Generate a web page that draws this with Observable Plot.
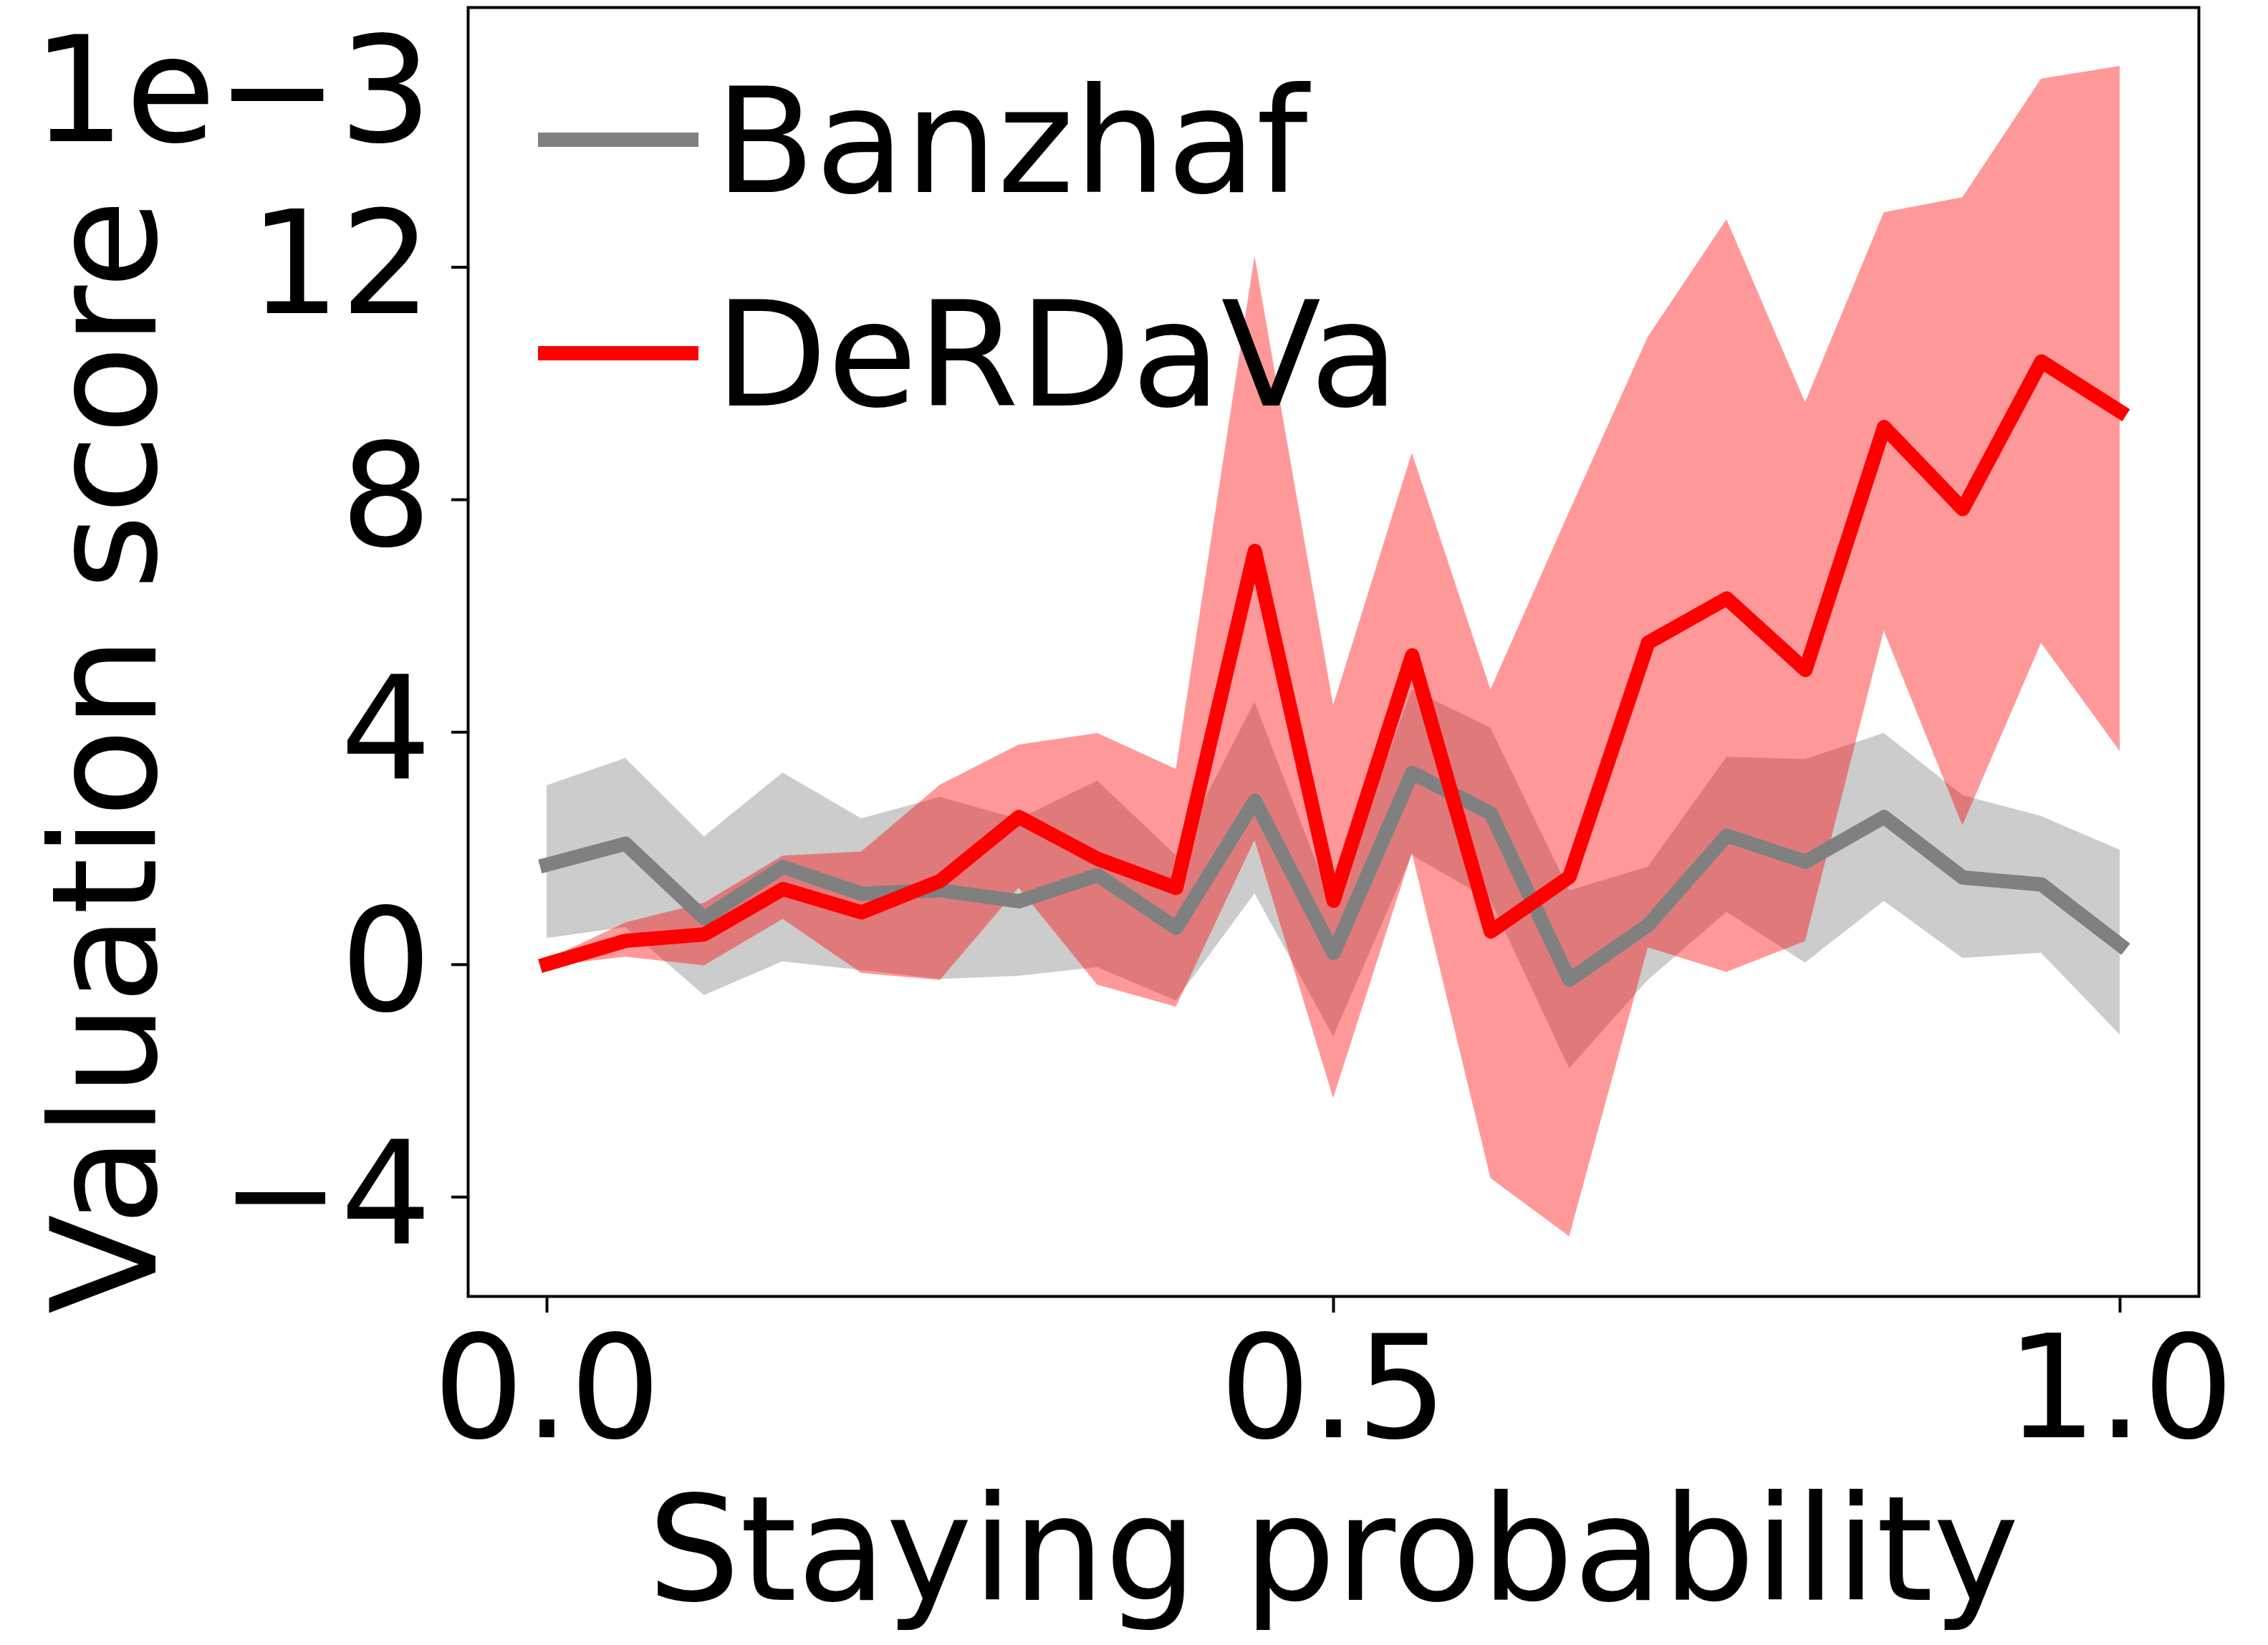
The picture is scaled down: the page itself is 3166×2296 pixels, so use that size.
<!DOCTYPE html>
<html>
<head>
<meta charset="utf-8">
<script src="https://cdn.jsdelivr.net/npm/d3@7"></script>
<script src="https://cdn.jsdelivr.net/npm/@observablehq/plot@0.6"></script>
<style>
  html, body { margin: 0; padding: 0; background: white; overflow: hidden; }
</style>
</head>
<body>
<div id="chart"></div>
<script>
// Staying probability
const stayProb = [0.00, 0.05, 0.10, 0.15, 0.20, 0.25, 0.30, 0.35, 0.40, 0.45, 0.50,
                  0.55, 0.60, 0.65, 0.70, 0.75, 0.80, 0.85, 0.90, 0.95, 1.00];

// Banzhaf (values in units of 1e-3)
const banzhafMean  = [1.72, 2.08, 0.80, 1.68, 1.22, 1.28, 1.09, 1.54, 0.63, 2.82, 0.20,
                      3.30, 2.60, -0.26, 0.68, 2.22, 1.77, 2.54, 1.50, 1.38, 0.34];
const banzhafUpper = [3.08, 3.55, 2.20, 3.30, 2.51, 2.88, 2.50, 3.16, 1.88, 4.52, 1.00,
                      4.73, 4.07, 1.27, 1.68, 3.57, 3.53, 3.98, 2.91, 2.55, 1.97];
const banzhafLower = [0.45, 0.64, -0.53, 0.05, -0.10, -0.25, -0.20, -0.05, -0.62, 1.22, -1.24,
                      1.88, 1.10, -1.79, -0.27, 0.90, 0.03, 1.09, 0.11, 0.20, -1.21];

// DeRDaVa (values in units of 1e-3)
const derdavaMean  = [0.01, 0.41, 0.52, 1.30, 0.90, 1.44, 2.54, 1.82, 1.32, 7.12, 1.10,
                      5.32, 0.57, 1.51, 5.54, 6.30, 5.07, 9.25, 7.84, 10.38, 9.52];
const derdavaUpper = [0.08, 0.72, 1.06, 1.87, 1.94, 3.09, 3.78, 3.98, 3.36, 12.19, 4.46,
                      8.80, 4.73, 7.79, 10.80, 12.82, 9.67, 12.94, 13.20, 15.24, 15.46];
const derdavaLower = [-0.03, 0.13, -0.02, 0.78, -0.15, -0.27, 1.32, -0.35, -0.73, 2.14, -2.30,
                      1.92, -3.68, -4.68, 0.29, -0.13, 0.40, 5.74, 2.39, 5.53, 3.67];

const xTicks = [0.0, 0.5, 1.0];
const yTicks = [-4, 0, 4, 8, 12];
const seriesNames = ["Banzhaf", "DeRDaVa"];
const seriesColors = ["gray", "red"];
const xLabel = "Staying probability";
const yLabel = "Valuation score";
const offsetLabel = "1e\u22123";

const banzhaf = stayProb.map((x, i) => ({x, mean: banzhafMean[i], lo: banzhafLower[i], hi: banzhafUpper[i]}));
const derdava = stayProb.map((x, i) => ({x, mean: derdavaMean[i], lo: derdavaLower[i], hi: derdavaUpper[i]}));

const FONT = 200;
const LABEL_FONT = 203;
const LW = 20;

const chart = Plot.plot({
  width: 3166,
  height: 2296,
  marginLeft: 653,
  marginRight: 97,
  marginTop: 10,
  marginBottom: 487,
  x: {domain: [-0.0501, 1.0501]},
  y: {domain: [-5.71, 16.47]},
  style: {fontFamily: "DejaVu Sans", fontSize: FONT + "px", background: "white", color: "black"},
  marks: [
    Plot.areaY(banzhaf, {x: "x", y1: "lo", y2: "hi", fill: seriesColors[0], fillOpacity: 0.4}),
    Plot.areaY(derdava, {x: "x", y1: "lo", y2: "hi", fill: seriesColors[1], fillOpacity: 0.4}),
    Plot.lineY(banzhaf, {x: "x", y: "mean", stroke: seriesColors[0], strokeWidth: LW, strokeLinejoin: "round", strokeLinecap: "square"}),
    Plot.lineY(derdava, {x: "x", y: "mean", stroke: seriesColors[1], strokeWidth: LW, strokeLinejoin: "round", strokeLinecap: "square"}),
    Plot.frame({stroke: "black", strokeWidth: 4}),
    Plot.axisX({ticks: xTicks, tickFormat: d => d.toFixed(1), tickSize: 23, tickPadding: 31,
                strokeWidth: 4, fontSize: FONT, label: null}),
    Plot.axisY({ticks: yTicks, tickFormat: d => (d < 0 ? "\u2212" + Math.abs(d) : String(d)),
                tickSize: 23, tickPadding: 28, strokeWidth: 4, fontSize: FONT, label: null}),
    Plot.text([xLabel], {frameAnchor: "bottom", dy: 423, lineAnchor: "bottom", textAnchor: "middle", fontSize: LABEL_FONT, fill: "black"}),
    Plot.text([yLabel], {frameAnchor: "left", dx: -437, dy: 146, rotate: -90, lineAnchor: "bottom", textAnchor: "middle", fontSize: LABEL_FONT, fill: "black"}),
    Plot.text([offsetLabel], {frameAnchor: "top-left", dx: -50, dy: 186, lineAnchor: "bottom", textAnchor: "end", fontSize: 205, fill: "black"})
  ]
});

// Legend (upper left inside the frame)
const svg = d3.select(chart);
const legend = svg.append("g")
  .attr("font-family", "DejaVu Sans")
  .attr("font-size", 204)
  .attr("text-anchor", "start");
const legendRows = [195, 493];
seriesNames.forEach((name, i) => {
  const cy = legendRows[i];
  legend.append("line")
    .attr("x1", 751).attr("x2", 975).attr("y1", cy).attr("y2", cy)
    .attr("stroke", seriesColors[i]).attr("stroke-width", LW);
  legend.append("text")
    .attr("x", 998).attr("y", cy).attr("dy", "0.36em")
    .attr("text-anchor", "start")
    .attr("fill", "black").text(name);
});

document.getElementById("chart").appendChild(chart);
</script>
</body>
</html>
